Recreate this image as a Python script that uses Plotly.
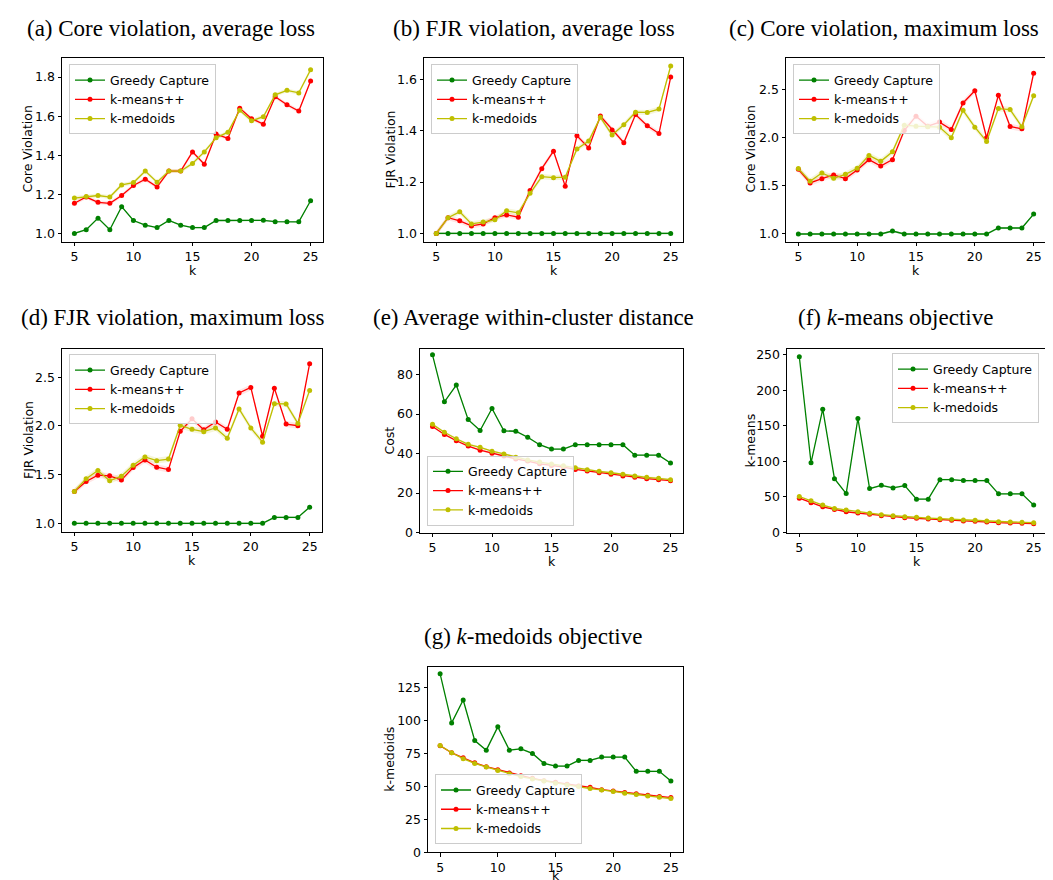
import plotly.graph_objects as go

W, H = 1053, 880
K = list(range(5, 26))

# ---------------- data ----------------
# (a) Core violation, average loss
a_greedy = [1.000, 1.019, 1.078, 1.019, 1.137, 1.066, 1.042, 1.030, 1.066, 1.042, 1.030,
            1.030, 1.066, 1.066, 1.066, 1.066, 1.067, 1.060, 1.059, 1.059, 1.167]
a_kmeans = [1.154, 1.186, 1.159, 1.154, 1.194, 1.245, 1.277, 1.238, 1.319, 1.319, 1.417,
            1.354, 1.508, 1.486, 1.641, 1.587, 1.559, 1.699, 1.658, 1.626, 1.780]
a_kmedoids = [1.181, 1.189, 1.194, 1.186, 1.248, 1.260, 1.319, 1.262, 1.319, 1.319, 1.358,
              1.417, 1.489, 1.518, 1.630, 1.576, 1.597, 1.709, 1.732, 1.719, 1.837]

# (b) FJR violation, average loss
b_greedy = [1.0] * 21
b_kmeans = [1.000, 1.061, 1.049, 1.029, 1.037, 1.061, 1.072, 1.063, 1.167, 1.252, 1.320,
            1.184, 1.380, 1.333, 1.457, 1.403, 1.353, 1.463, 1.419, 1.389, 1.609]
b_kmedoids = [1.000, 1.061, 1.084, 1.037, 1.044, 1.053, 1.088, 1.080, 1.156, 1.221, 1.217,
              1.219, 1.329, 1.360, 1.452, 1.383, 1.423, 1.472, 1.471, 1.484, 1.652]

# (c) Core violation, maximum loss
c_greedy = [1.0, 1.0, 1.0, 1.0, 1.0, 1.0, 1.0, 1.0, 1.031, 1.0, 1.0,
            1.0, 1.0, 1.0, 1.0, 1.0, 1.0, 1.062, 1.062, 1.062, 1.206]
c_kmeans = [1.671, 1.530, 1.574, 1.612, 1.574, 1.664, 1.771, 1.705, 1.771, 2.073, 2.222,
            2.118, 2.160, 2.084, 2.359, 2.486, 1.998, 2.438, 2.115, 2.090, 2.668]
c_kmedoids = [1.678, 1.547, 1.633, 1.578, 1.619, 1.681, 1.815, 1.753, 1.853, 2.128, 2.118,
              2.111, 2.108, 1.998, 2.283, 2.108, 1.960, 2.300, 2.290, 2.111, 2.434]

# (d) FJR violation, maximum loss
d_greedy = [1.0] * 17 + [1.061, 1.061, 1.061, 1.166]
d_kmeans = [1.328, 1.430, 1.494, 1.488, 1.444, 1.572, 1.650, 1.576, 1.552, 1.945, 2.073,
            1.962, 2.040, 1.965, 2.338, 2.395, 1.894, 2.388, 2.019, 2.002, 2.639]
d_kmedoids = [1.328, 1.457, 1.542, 1.437, 1.484, 1.596, 1.681, 1.643, 1.660, 2.006, 1.965,
              1.941, 1.979, 1.874, 2.175, 1.979, 1.833, 2.229, 2.226, 2.026, 2.365]

# (e) Average within-cluster distance
e_greedy = [90.0, 66.2, 74.7, 57.2, 51.7, 62.8, 51.5, 51.3, 48.3, 44.5, 42.3,
            42.3, 44.5, 44.5, 44.5, 44.5, 44.5, 39.2, 39.2, 39.2, 35.2]
e_kmeans = [53.7, 49.7, 46.5, 43.8, 41.7, 40.2, 38.8, 37.3, 36.2, 34.8, 34.0,
            33.2, 32.0, 31.2, 30.3, 29.5, 28.7, 28.0, 27.3, 26.8, 26.3]
e_kmedoids = [54.8, 50.8, 47.5, 44.7, 43.2, 41.2, 39.8, 38.2, 36.8, 35.7, 34.7,
              33.8, 32.8, 31.8, 31.0, 30.3, 29.5, 28.7, 28.0, 27.5, 26.8]

# (f) k-means objective
f_greedy = [247.0, 98.0, 173.3, 75.7, 54.8, 160.3, 61.8, 66.4, 62.7, 66.0, 47.0,
            47.0, 74.3, 74.3, 73.0, 73.0, 73.0, 54.4, 54.4, 54.4, 38.6]
f_kmeans = [48.3, 41.8, 36.2, 32.5, 29.3, 27.4, 25.6, 23.7, 22.3, 20.9, 20.0,
            19.0, 18.1, 17.2, 16.3, 15.8, 14.9, 13.9, 13.5, 13.0, 12.5]
f_kmedoids = [50.7, 44.6, 38.6, 33.9, 31.6, 29.3, 27.0, 25.1, 23.7, 22.3, 21.4,
              20.4, 19.5, 18.6, 17.7, 17.2, 16.3, 15.3, 14.9, 14.4, 13.9]

# (g) k-medoids objective
g_greedy = [135.6, 98.3, 115.7, 84.9, 77.6, 95.3, 77.6, 78.6, 75.1, 67.5, 65.5,
            65.5, 69.8, 69.8, 72.3, 72.3, 72.3, 61.5, 61.5, 61.5, 54.2]
g_kmeans = [80.9, 75.6, 71.8, 68.0, 65.0, 62.8, 60.2, 58.2, 56.2, 54.4, 53.2,
            51.7, 50.4, 49.4, 47.6, 46.6, 45.4, 44.4, 43.3, 42.3, 41.6]
g_kmedoids = [81.1, 75.6, 71.1, 67.5, 64.8, 62.2, 59.7, 57.5, 55.7, 54.2, 52.4,
              51.2, 49.9, 48.4, 47.4, 46.1, 44.9, 43.9, 42.8, 41.8, 40.8]

SERIES_NAMES = ["Greedy Capture", "k-means++", "k-medoids"]
XTICKS = [5, 10, 15, 20, 25]

# ---------------- styling ----------------
COLORS = ["#008000", "#ff0000", "#bfbf00"]
BAND_COLORS = ["rgba(0,128,0,0.2)", "rgba(255,0,0,0.1)", "rgba(191,191,0,0.15)"]
TICK_FONT = dict(family="DejaVu Sans", size=12.5, color="black")
TITLE_FONT = dict(family="Liberation Serif", size=23, color="black")

panels = [
    dict(title="(a) Core violation, average loss", ylabel="Core Violation",
         data=(a_greedy, a_kmeans, a_kmedoids), box=(54, 48, 315, 234),
         yrange=[0.958, 1.90], yticks=[1.0, 1.2, 1.4, 1.6, 1.8], fmt=".1f",
         band=(0.004, 0.01, 0.01), title_xy=(163, 19), ylab_x=20,
         leg=dict(x=61, y=55, xa="left", ya="top")),
    dict(title="(b) FJR violation, average loss", ylabel="FJR Violation",
         data=(b_greedy, b_kmeans, b_kmedoids), box=(416, 48, 675, 234),
         yrange=[0.968, 1.685], yticks=[1.0, 1.2, 1.4, 1.6], fmt=".1f",
         band=(0.004, 0.01, 0.01), title_xy=(526, 19), ylab_x=383,
         leg=dict(x=423, y=55, xa="left", ya="top")),
    dict(title="(c) Core violation, maximum loss", ylabel="Core Violation",
         data=(c_greedy, c_kmeans, c_kmedoids), box=(778, 48, 1038, 234),
         yrange=[0.921, 2.83], yticks=[1.0, 1.5, 2.0, 2.5], fmt=".1f",
         band=(0.01, 0.03, 0.03), title_xy=(876, 19), ylab_x=743,
         leg=dict(x=785, y=55, xa="left", ya="top")),
    dict(title="(d) FJR violation, maximum loss", ylabel="FJR Violation",
         data=(d_greedy, d_kmeans, d_kmedoids), box=(54, 342, 314, 527),
         yrange=[0.915, 2.795], yticks=[1.0, 1.5, 2.0, 2.5], fmt=".1f",
         band=(0.01, 0.03, 0.03), title_xy=(165, 311), ylab_x=20,
         leg=dict(x=61, y=348, xa="left", ya="top")),
    dict(title="(e) Average within-cluster distance", ylabel="Cost",
         data=(e_greedy, e_kmeans, e_kmedoids), box=(412, 342, 675, 528),
         yrange=[0, 93.2], yticks=[0, 20, 40, 60, 80], fmt="d",
         band=(0.4, 0.5, 0.5), title_xy=(525, 311), ylab_x=382,
         leg=dict(x=419, y=521, xa="left", ya="bottom")),
    dict(title="(f) <i>k</i>-means objective", ylabel="k-means",
         data=(f_greedy, f_kmeans, f_kmedoids), box=(779, 342, 1038, 528),
         yrange=[0, 258.5], yticks=[0, 50, 100, 150, 200, 250], fmt="d",
         band=(1.2, 1.2, 1.2), title_xy=(887, 311), ylab_x=743,
         leg=dict(x=1031, y=347, xa="right", ya="top")),
    dict(title="(g) <i>k</i>-medoids objective", ylabel="k-medoids",
         data=(g_greedy, g_kmeans, g_kmedoids), box=(420, 664, 675, 851),
         yrange=[0, 140.6], yticks=[0, 25, 50, 75, 100, 125], fmt="d",
         band=(0.6, 0.7, 0.7), title_xy=(525, 633), ylab_x=382,
         leg=dict(x=427, y=843, xa="left", ya="bottom")),
]


def px(x):
    return x / W


def py(y):
    return 1 - y / H


fig = go.Figure()
annotations = []
layout = {}

for i, p in enumerate(panels):
    n = i + 1
    xa = "x" if n == 1 else f"x{n}"
    ya = "y" if n == 1 else f"y{n}"
    leg = "legend" if n == 1 else f"legend{n}"
    x0, y0, x1, y1 = p["box"]

    # shaded spread bands (drawn first)
    for s, vals in enumerate(p["data"]):
        hw = p["band"][s]
        fig.add_trace(go.Scatter(x=K, y=[v - hw for v in vals], mode="lines",
                                 line=dict(width=0), showlegend=False, hoverinfo="skip",
                                 xaxis=xa, yaxis=ya, legend=leg))
        fig.add_trace(go.Scatter(x=K, y=[v + hw for v in vals], mode="lines",
                                 line=dict(width=0), fill="tonexty",
                                 fillcolor=BAND_COLORS[s], showlegend=False,
                                 hoverinfo="skip", xaxis=xa, yaxis=ya, legend=leg))
    # lines
    for s, vals in enumerate(p["data"]):
        fig.add_trace(go.Scatter(x=K, y=vals, mode="lines+markers", name=SERIES_NAMES[s],
                                 line=dict(color=COLORS[s], width=1.3),
                                 marker=dict(color=COLORS[s], size=5),
                                 xaxis=xa, yaxis=ya, legend=leg))

    ax_common = dict(showline=True, linecolor="black", linewidth=1, mirror=True,
                     ticks="outside", ticklen=3.5, tickcolor="black", showgrid=False,
                     zeroline=False, tickfont=TICK_FONT)
    layout["xaxis" if n == 1 else f"xaxis{n}"] = dict(
        domain=[px(x0), px(x1)], anchor=ya, range=[3.95, 26.05],
        tickvals=XTICKS, **ax_common)
    layout["yaxis" if n == 1 else f"yaxis{n}"] = dict(
        domain=[py(y1), py(y0)], anchor=xa, range=p["yrange"],
        tickvals=p["yticks"], tickformat=p["fmt"], **ax_common)

    lg = p["leg"]
    layout[leg] = dict(x=px(lg["x"]), y=py(lg["y"]), xanchor=lg["xa"], yanchor=lg["ya"],
                       xref="paper", yref="paper", traceorder="normal",
                       bgcolor="rgba(255,255,255,0.8)", bordercolor="#cccccc", borderwidth=1,
                       font=dict(family="DejaVu Sans", size=12.5, color="black"),
                       tracegroupgap=0, itemwidth=30)

    # panel caption
    tx, ty = p["title_xy"]
    annotations.append(dict(text=p["title"], x=px(tx), y=py(ty), xref="paper", yref="paper",
                            xanchor="center", yanchor="middle", showarrow=False,
                            font=TITLE_FONT))
    # axis labels
    ky = min(y1 + 29, H - 6)
    annotations.append(dict(text="k", x=px((x0 + x1) / 2), y=py(ky),
                            xref="paper", yref="paper", xanchor="center", yanchor="middle",
                            showarrow=False, font=TICK_FONT))
    annotations.append(dict(text=p["ylabel"], x=px(p["ylab_x"]), y=py((y0 + y1) / 2),
                            xref="paper", yref="paper", xanchor="center", yanchor="middle",
                            textangle=-90, showarrow=False, font=TICK_FONT))

fig.update_layout(width=W, height=H, margin=dict(l=0, r=0, t=0, b=0),
                  paper_bgcolor="white", plot_bgcolor="white",
                  annotations=annotations, **layout)

fig.write_html("out.html")
